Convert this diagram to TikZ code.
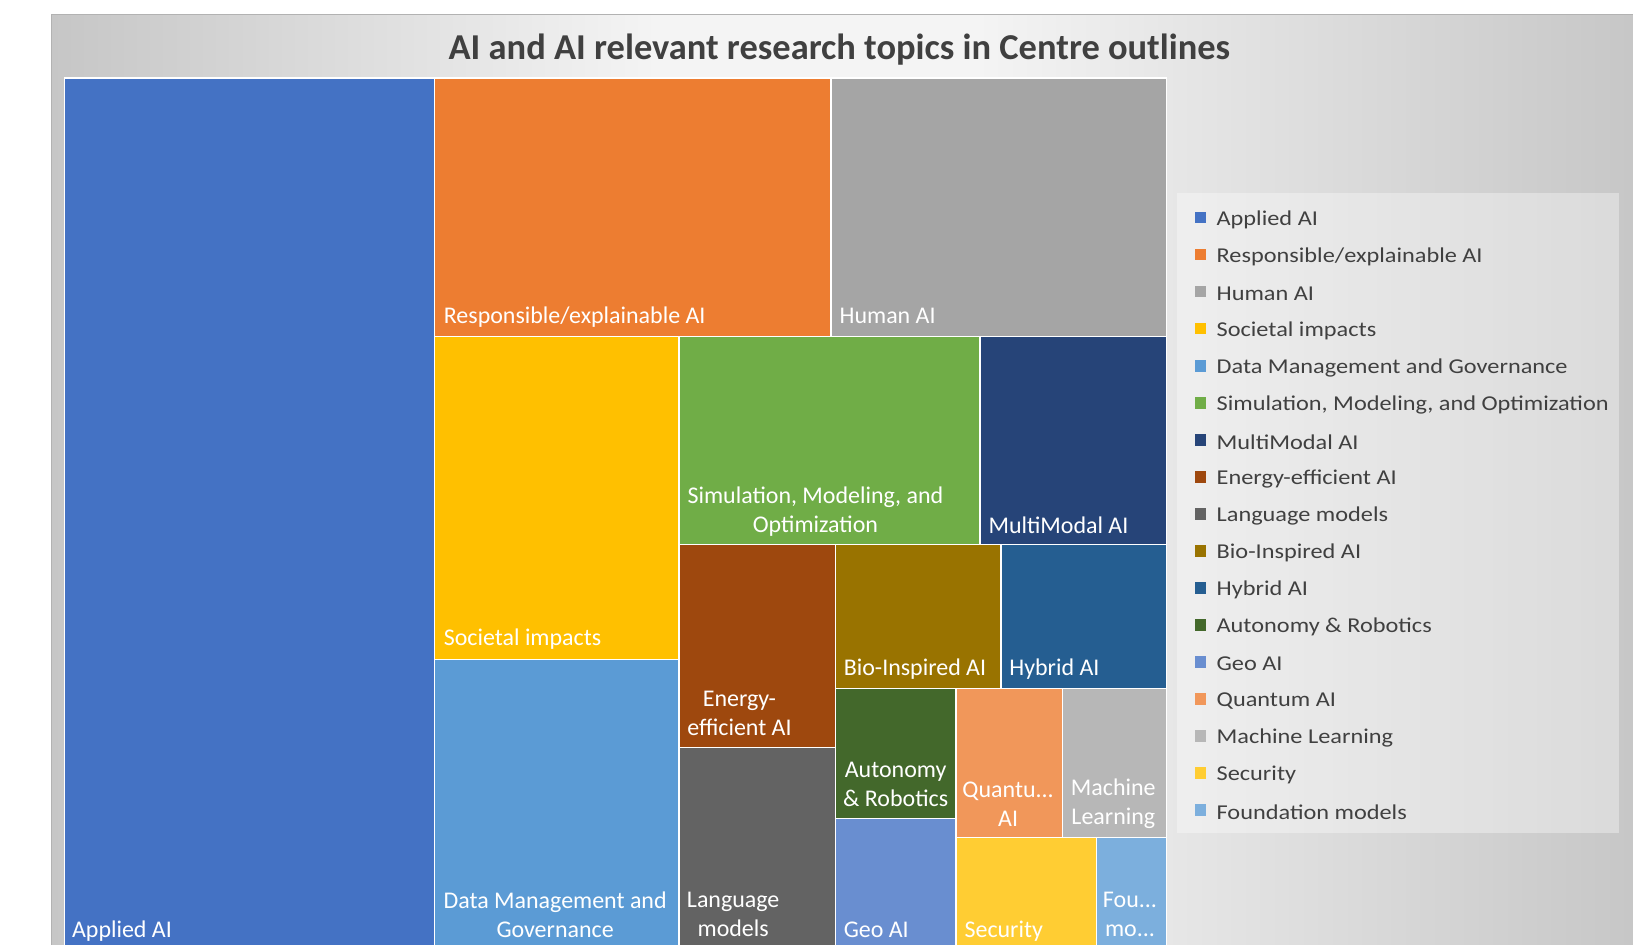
\documentclass[tikz,border=0pt]{standalone}
\usepackage{fontspec}
\setmainfont{Carlito}
\newfontfamily\legfont[FakeStretch=1.15]{Carlito}
\definecolor{cApplied}{HTML}{4472C4}
\definecolor{cResp}{HTML}{ED7D31}
\definecolor{cHuman}{HTML}{A5A5A5}
\definecolor{cSoc}{HTML}{FFC000}
\definecolor{cData}{HTML}{5B9BD5}
\definecolor{cSim}{HTML}{70AD47}
\definecolor{cMulti}{HTML}{264478}
\definecolor{cEnergy}{HTML}{9E480E}
\definecolor{cLang}{HTML}{636363}
\definecolor{cBio}{HTML}{997300}
\definecolor{cHybrid}{HTML}{255E91}
\definecolor{cAuto}{HTML}{43682B}
\definecolor{cGeo}{HTML}{698ED0}
\definecolor{cQuant}{HTML}{F1975A}
\definecolor{cML}{HTML}{B7B7B7}
\definecolor{cSec}{HTML}{FFCD33}
\definecolor{cFound}{HTML}{7CAFDD}
\definecolor{txtgray}{HTML}{404040}
\definecolor{bgedge}{HTML}{C6C6C6}
\definecolor{bgmid}{HTML}{F4F4F4}
\pgfdeclarehorizontalshading{bgshade}{100bp}{color(0bp)=(bgedge); color(25bp)=(bgedge); color(44bp)=(bgmid); color(54bp)=(bgmid); color(75bp)=(bgedge); color(100bp)=(bgedge)}
\begin{document}
\begin{tikzpicture}[x=1pt,y=-1pt,
  cell/.style={draw=white, line width=1.3pt},
  lab/.style={text=white, font=\fontsize{23}{28}\selectfont, inner sep=0pt},
  labl/.style={lab, anchor=base west},
  labc/.style={lab, align=center, anchor=center},
  legsq/.style={minimum size=11pt, inner sep=0pt},
  legtx/.style={text=txtgray, font=\legfont\fontsize{20.3}{24}\selectfont, inner sep=0pt, anchor=west}]
\useasboundingbox (0,0) rectangle (1568,907);
\clip (0,0) rectangle (1568,907);
% chart background
\path[shading=bgshade, draw=gray!60, line width=0.8pt]
  (49,14) rectangle (1580,930);
\node[text=txtgray, font=\bfseries\fontsize{35}{40}\selectfont, inner sep=0pt] (title) at (806,48)
  {AI and AI relevant research topics in Centre outlines};
% treemap cells
\path[cell, fill=cApplied] (62,75) rectangle (417,920);
\path[cell, fill=cResp] (417,75) rectangle (798,323);
\path[cell, fill=cHuman] (798,75) rectangle (1120,323);
\path[cell, fill=cSoc] (417,323) rectangle (652,633);
\path[cell, fill=cData] (417,633) rectangle (652,920);
\path[cell, fill=cSim] (652,323) rectangle (941,523);
\path[cell, fill=cMulti] (941,323) rectangle (1120,523);
\path[cell, fill=cEnergy] (652,523) rectangle (802,718);
\path[cell, fill=cLang] (652,718) rectangle (802,920);
\path[cell, fill=cBio] (802,523) rectangle (961,661);
\path[cell, fill=cHybrid] (961,523) rectangle (1120,661);
\path[cell, fill=cAuto] (802,661) rectangle (918,786);
\path[cell, fill=cGeo] (802,786) rectangle (918,920);
\path[cell, fill=cQuant] (918,661) rectangle (1020,804);
\path[cell, fill=cML] (1020,661) rectangle (1120,804);
\path[cell, fill=cSec] (918,804) rectangle (1053,920);
\path[cell, fill=cFound] (1053,804) rectangle (1120,920);
% labels
\node[labl] (lApplied) at (69,900) {Applied AI};
\node[labl] (lResp) at (426,311) {Responsible/explainable AI};
\node[labl] (lHuman) at (806,311) {Human AI};
\node[labl] (lSoc) at (426,620) {Societal impacts};
\node[labc] (lData) at (533,878) {Data Management and\\Governance};
\node[labc] (lSim) at (783,491) {Simulation, Modeling, and\\Optimization};
\node[labl] (lMulti) at (949,512) {MultiModal AI};
\node[labc] (lEnergy) at (710,685) {Energy-\\efficient AI};
\node[labc] (lLang) at (704,878) {Language\\models};
\node[labl] (lBio) at (810,649) {Bio-Inspired AI};
\node[labl] (lHybrid) at (969,649) {Hybrid AI};
\node[labc] (lAuto) at (860,753) {Autonomy\\\& Robotics};
\node[labc] (lQuant) at (968,772) {Quantu...\\AI};
\node[labc] (lML) at (1069,772) {Machine\\Learning};
\node[labl] (lGeo) at (810,900) {Geo AI};
\node[labl] (lSec) at (926,900) {Security};
\node[labc] (lFound) at (1085,878) {Fou...\\mo...};
% legend
\path[fill=white, fill opacity=0.35] (1130,185) rectangle (1555,800);
\foreach \c/\t [count=\i from 0] in {cApplied/Applied AI, cResp/Responsible\slash explainable AI, cHuman/Human AI, cSoc/Societal impacts, cData/Data Management and Governance, cSim/{Simulation, Modeling, and Optimization}, cMulti/MultiModal AI, cEnergy/Energy-efficient AI, cLang/Language models, cBio/Bio-Inspired AI, cHybrid/Hybrid AI, cAuto/Autonomy \& Robotics, cGeo/Geo AI, cQuant/Quantum AI, cML/Machine Learning, cSec/Security, cFound/Foundation models}{
  \node[legsq, fill=\c] (sq\i) at (1152.5,209+35.56*\i) {};
  \node[legtx] (lt\i) at (1168,211+35.56*\i) {\t};
}
\end{tikzpicture}
\end{document}
